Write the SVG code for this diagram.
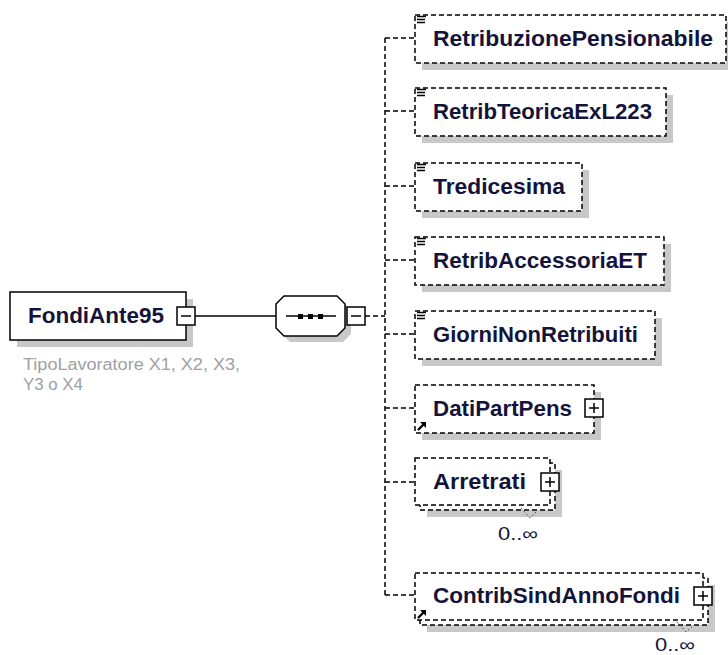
<svg xmlns="http://www.w3.org/2000/svg" xmlns:xlink="http://www.w3.org/1999/xlink" width="728" height="655" viewBox="0 0 728 655">
<style>
.bg{fill:#fff}
.box{fill:#fff;stroke:#000;stroke-width:1.5;stroke-dasharray:5 3}
.solid{fill:#fff;stroke:#000;stroke-width:1.5}
.shadow{fill:#c8c8c8}
.lbl{font-family:"Liberation Sans",Arial,sans-serif;font-weight:bold;font-size:22px;fill:#14143a}
.conn{stroke:#000;stroke-width:1.5;fill:none}
.dash{stroke-dasharray:5 3}
.btn{fill:#fff;stroke:#000;stroke-width:1.5}
.mark{stroke:#000;stroke-width:1.5;fill:none}
.mult{font-family:"Liberation Sans",Arial,sans-serif;font-size:18px;fill:#14143a}
.ann{font-family:"Liberation Sans",Arial,sans-serif;font-size:16px;fill:#a0a0a0}
.chev{stroke:#555;stroke-width:1;fill:none;stroke-dasharray:2 2}
</style>
<defs>
<g id="plus"><rect class="btn" x="-9" y="-9" width="18" height="18"/><path class="mark" d="M-5 0H5M0 -5V5"/></g>
<g id="minus"><rect class="btn" x="-9" y="-9" width="18" height="18"/><path class="mark" d="M-5 0H5"/></g>
<g id="eq"><path d="M0 1.5H9M0 4.5H8M0 7.5H8" stroke="#000" stroke-width="1.6" fill="none"/></g>
<g id="ref"><path d="M1 9L7 3" stroke="#000" stroke-width="2.4"/><path d="M3 1H9V7Z" fill="#000"/></g>
</defs>
<rect class="bg" width="728" height="655"/>

<g id="connectors">
<path class="conn" d="M195 316H276"/>
<path class="conn dash" d="M365 316H385"/>
<path class="conn dash" d="M385 38V595"/>
<path class="conn dash" d="M385 38H415M385 111H415M385 186H415M385 260H415M385 334H415M385 408H415M385 482H415M385 595H415"/>
</g>

<g id="FondiAnte95">
<rect class="shadow" x="17" y="299" width="176" height="48"/>
<rect class="solid" x="10" y="292" width="176" height="48"/>
<text class="lbl" x="28" y="323" textLength="136" lengthAdjust="spacingAndGlyphs">FondiAnte95</text>
<use href="#minus" x="186" y="316"/>
<text class="ann" x="23" y="370" textLength="217" lengthAdjust="spacingAndGlyphs">TipoLavoratore X1, X2, X3,</text>
<text class="ann" x="23" y="390" textLength="60" lengthAdjust="spacingAndGlyphs">Y3 o X4</text>
</g>

<g id="sequence">
<polygon class="shadow" points="290,302 343,302 351,310 351,334 343,342 290,342 282,334 282,310"/>
<polygon class="solid" points="284,296 337,296 345,304 345,328 337,336 284,336 276,328 276,304"/>
<path class="conn" d="M286 316H336"/>
<rect x="298" y="314" width="5" height="5" fill="#000"/>
<rect x="308" y="314" width="5" height="5" fill="#000"/>
<rect x="318" y="314" width="5" height="5" fill="#000"/>
<use href="#minus" x="356" y="316"/>
</g>

<g id="RetribuzionePensionabile">
<rect class="shadow" x="422" y="22" width="311" height="48"/>
<rect class="box" x="415" y="15" width="311" height="48"/>
<use href="#eq" x="417" y="15"/>
<text class="lbl" x="433" y="46" textLength="280" lengthAdjust="spacingAndGlyphs">RetribuzionePensionabile</text>
</g>

<g id="RetribTeoricaExL223">
<rect class="shadow" x="422" y="95" width="251" height="48"/>
<rect class="box" x="415" y="88" width="251" height="48"/>
<use href="#eq" x="417" y="88"/>
<text class="lbl" x="433" y="119" textLength="219" lengthAdjust="spacingAndGlyphs">RetribTeoricaExL223</text>
</g>

<g id="Tredicesima">
<rect class="shadow" x="422" y="170" width="167" height="48"/>
<rect class="box" x="415" y="163" width="167" height="48"/>
<use href="#eq" x="417" y="163"/>
<text class="lbl" x="433" y="194" textLength="132" lengthAdjust="spacingAndGlyphs">Tredicesima</text>
</g>

<g id="RetribAccessoriaET">
<rect class="shadow" x="422" y="244" width="249" height="48"/>
<rect class="box" x="415" y="237" width="249" height="48"/>
<use href="#eq" x="417" y="237"/>
<text class="lbl" x="433" y="268" textLength="214" lengthAdjust="spacingAndGlyphs">RetribAccessoriaET</text>
</g>

<g id="GiorniNonRetribuiti">
<rect class="shadow" x="422" y="318" width="240" height="48"/>
<rect class="box" x="415" y="311" width="240" height="48"/>
<use href="#eq" x="417" y="311"/>
<text class="lbl" x="433" y="342" textLength="205" lengthAdjust="spacingAndGlyphs">GiorniNonRetribuiti</text>
</g>

<g id="DatiPartPens">
<rect class="shadow" x="422" y="392" width="179" height="48"/>
<rect class="box" x="415" y="385" width="179" height="48"/>
<use href="#ref" x="417" y="421"/>
<text class="lbl" x="433" y="416" textLength="139" lengthAdjust="spacingAndGlyphs">DatiPartPens</text>
<use href="#plus" x="594" y="408"/>
</g>

<g id="Arretrati">
<rect class="shadow" x="427" y="470" width="135" height="47"/>
<rect class="box" x="420" y="463" width="135" height="47"/>
<rect class="box" x="415" y="458" width="135" height="47"/>
<text class="lbl" x="433" y="489" textLength="93" lengthAdjust="spacingAndGlyphs">Arretrati</text>
<use href="#plus" x="550" y="482"/>
<path class="chev" d="M521 508L530 518L537 511"/>
<text class="mult" x="498" y="540" textLength="40" lengthAdjust="spacingAndGlyphs">0..∞</text>
</g>

<g id="ContribSindAnnoFondi">
<rect class="shadow" x="427" y="585" width="288" height="47"/>
<rect class="box" x="420" y="578" width="288" height="47"/>
<rect class="box" x="415" y="573" width="288" height="47"/>
<use href="#ref" x="417" y="609"/>
<text class="lbl" x="433" y="603" textLength="247" lengthAdjust="spacingAndGlyphs">ContribSindAnnoFondi</text>
<use href="#plus" x="703" y="596"/>
<path class="chev" d="M677 622L686 632L692 627"/>
<text class="mult" x="655" y="651" textLength="40" lengthAdjust="spacingAndGlyphs">0..∞</text>
</g>
</svg>
